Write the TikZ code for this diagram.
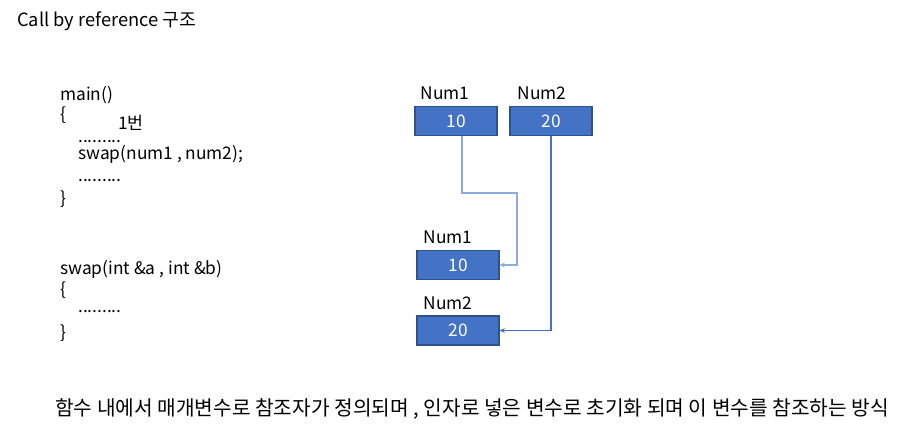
\documentclass[tikz,border=0pt]{standalone}
\usepackage{fontspec}
\setmainfont{Noto Sans CJK KR}
\usetikzlibrary{arrows.meta}
\definecolor{boxfill}{HTML}{4472C4}
\definecolor{boxline}{HTML}{2F528F}
\definecolor{lineA}{HTML}{8FAADC}
\definecolor{lineB}{HTML}{4472C4}
\begin{document}
\begin{tikzpicture}[x=0.75pt,y=-0.75pt,
  txt/.style={font=\fontsize{13}{15}\selectfont, inner sep=0pt, anchor=west, text=black},
  vbox/.style={draw=boxline, line width=0.8pt, fill=boxfill, text=white, minimum width=61.5pt, minimum height=21.75pt, inner sep=0pt, font=\fontsize{13}{15}\selectfont},
  connA/.style={draw=lineA, line width=0.9pt, -{Stealth[length=4pt,width=3.5pt]}},
  connB/.style={draw=lineB, line width=0.9pt, -{Stealth[length=4pt,width=3.5pt]}}]
\useasboundingbox (0,0) rectangle (915,444);
\fill[white] (0,0) rectangle (915,444);
% title
\node[txt, font=\fontsize{13.7}{15}\selectfont] (title) at (17,21) {Call by reference 구조};
% main code
\node[txt] (m1) at (60,95) {main()};
\node[txt] (m2) at (60,115) {\{};
\node[txt] (m3) at (118,123) {1번};
\node[txt] (m4) at (78,142) {.........};
\node[txt] (m5) at (78,154) {swap(num1 , num2);};
\node[txt] (m6) at (78,181) {.........};
\node[txt] (m7) at (60,199) {\}};
% swap code
\node[txt] (s1) at (60,269) {swap(int \&a , int \&b)};
\node[txt] (s2) at (60,290) {\{};
\node[txt] (s3) at (78,312) {.........};
\node[txt] (s4) at (60,333) {\}};
% top boxes
\node[vbox] (t1) at (456,121) {10};
\node[vbox] (t2) at (551,121) {20};
\node[txt, anchor=center] (lt1) at (445,93) {Num1};
\node[txt, anchor=center] (lt2) at (542,93) {Num2};
% bottom boxes
\node[vbox] (b1) at (458,265) {10};
\node[vbox] (b2) at (458,330.5) {20};
\node[txt, anchor=center] (lb1) at (448,237) {Num1};
\node[txt, anchor=center] (lb2) at (448,303) {Num2};
% connectors
\coordinate (c1) at (517,193);
\draw[connA] ([xshift=4.5pt]t1.south) |- (c1) |- (b1.east);
\draw[connB] (t2.south) |- (b2.east);
% bottom text
\node[txt, font=\fontsize{15.2}{17}\selectfont] (foot) at (55,409) {함수 내에서 매개변수로 참조자가 정의되며 , 인자로 넣은 변수로 초기화 되며 이 변수를 참조하는 방식};
\end{tikzpicture}
\end{document}
